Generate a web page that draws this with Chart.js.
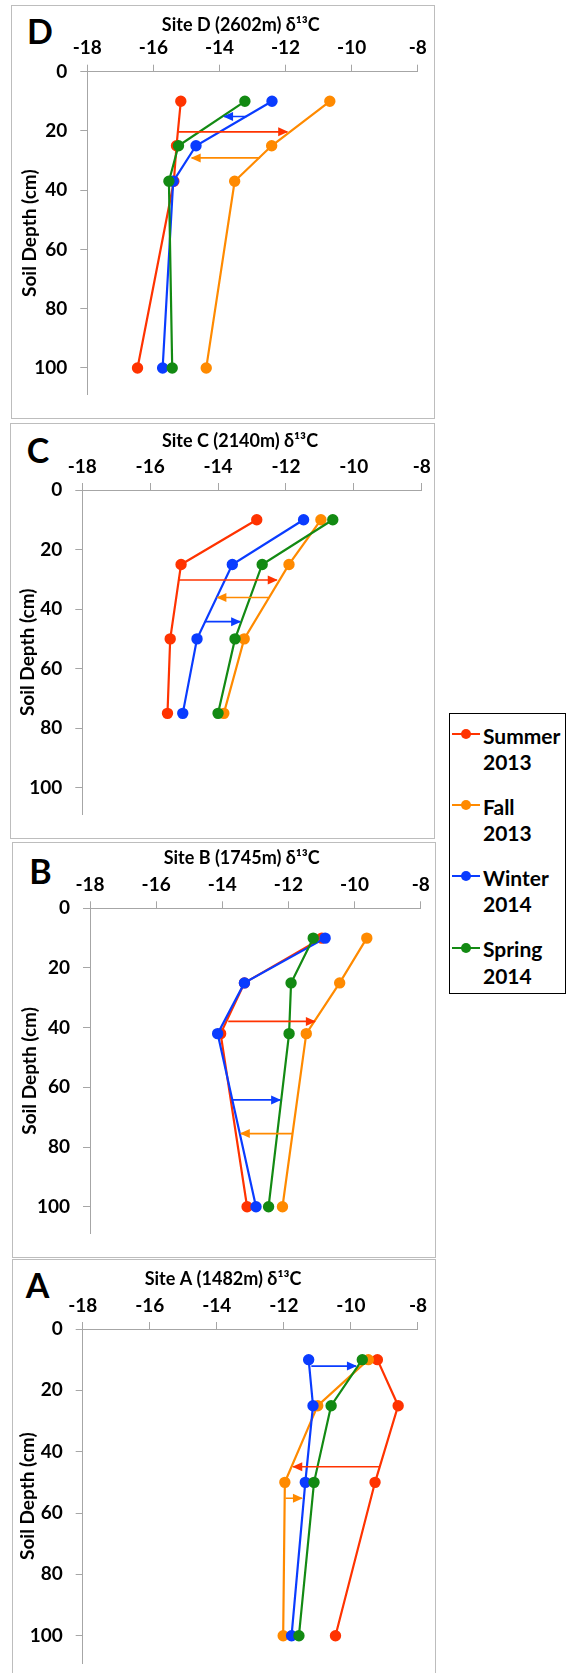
<!DOCTYPE html>
<html>
<head>
<meta charset="utf-8">
<title>Soil depth d13C by site</title>
<script src="https://cdn.jsdelivr.net/npm/chart.js@4.4.1/dist/chart.umd.min.js"></script>
<style>
  body { margin: 0; width: 566px; height: 1673px; background: #fff; position: relative; overflow: hidden; font-family: Lato, sans-serif; }
  .frame { position: absolute; border: 1px solid #bdbdbd; box-sizing: border-box; }
  canvas { position: absolute; }
  .letter { position: absolute; font: bold 34px Lato, sans-serif; line-height: 1; transform: translate(-50%, -50%); color: #000; }
  #legend { position: absolute; z-index: 5; left: 449px; top: 713px; width: 117px; height: 281px; border: 1px solid #000; box-sizing: border-box; padding-top: 8.6px; background: #fff; }
  #legend .item { position: relative; height: 53.4px; margin-bottom: 17.7px; padding-left: 33px; font: bold 21px Lato, sans-serif; line-height: 26.7px; color: #000; }
  #legend .mk { position: absolute; left: 2px; top: 10.7px; width: 28px; height: 2px; }
  #legend .mk i { position: absolute; left: 9px; top: -4px; width: 10px; height: 10px; border-radius: 50%; background: inherit; }
</style>
</head>
<body>
<div id="legend"></div>
<script>
// values: x = d13C (per mil), y = soil depth (cm)
const xTicks = [-18, -16, -14, -12, -10, -8];
const depthTicks = [0, 20, 40, 60, 80, 100];
const seasons = ['Summer 2013', 'Fall 2013', 'Winter 2014', 'Spring 2014'];

const depthD = [10, 25, 37, 100];
const summerD = [-15.17, -15.30, -15.38, -16.48];
const fallD = [-10.66, -12.42, -13.54, -14.40];
const winterD = [-12.41, -14.71, -15.40, -15.72];
const springD = [-13.23, -15.24, -15.53, -15.43];

const depthC = [10, 25, 50, 75];
const summerC = [-12.86, -15.09, -15.41, -15.49];
const fallC = [-10.97, -11.91, -13.23, -13.83];
const winterC = [-11.48, -13.58, -14.62, -15.04];
const springC = [-10.62, -12.70, -13.50, -14.00];

const depthB = [10, 25, 42, 100];
const summerB = [-10.99, -13.33, -14.05, -13.25];
const fallB = [-9.63, -10.45, -11.46, -12.18];
const winterB = [-10.89, -13.33, -14.14, -12.98];
const springB = [-11.25, -11.92, -11.98, -12.60];

const depthA = [10, 25, 50, 100];
const summerA = [-9.21, -8.59, -9.28, -10.46];
const fallA = [-9.48, -10.99, -11.97, -12.02];
const winterA = [-11.26, -11.13, -11.36, -11.77];
const springA = [-9.66, -10.59, -11.10, -11.55];

// shift arrows: [season index, depth, from, to]
const arrowsD = [[2, 15.1, -13.18, -13.86], [0, 20.3, -15.25, -11.95], [1, 29.1, -12.77, -14.84]];
const arrowsC = [[0, 30.2, -15.17, -12.27], [1, 36.1, -12.52, -14.02], [2, 44.2, -14.39, -13.35]];
const arrowsB = [[0, 37.9, -13.82, -11.20], [2, 64.2, -13.70, -12.25], [1, 75.5, -11.87, -13.44]];
const arrowsA = [[2, 12.1, -11.18, -9.85], [0, 44.9, -9.16, -11.72], [1, 55.2, -11.95, -11.46]];

const COLORS = ['#ff3300', '#ff8a00', '#0a3cff', '#138a13'];
const AXIS = '#a6a6a6';
const FONT = 'Lato';
const TITLE_SIZE = 18, TICK_SIZE = 19;

const panels = [
    { letter: 'D', title: 'Site D (2602m) δ¹³C', depths: depthD, series: [summerD, fallD, winterD, springD], arrows: arrowsD,
      geo: { frame: [11, 5, 435, 419], area: { l: 87.3, r: 417.7, t: 71.7, y100: 381 }, title: { x: 240.8, y: 25 }, letter: { x: 40, y: 30.5 }, yTitleX: 30 } },
    { letter: 'C', title: 'Site C (2140m) δ¹³C', depths: depthC, series: [summerC, fallC, winterC, springC], arrows: arrowsC,
      geo: { frame: [10, 423, 435, 839], area: { l: 82.3, r: 421.7, t: 490, y100: 799.3 }, title: { x: 240, y: 440.7 }, letter: { x: 38, y: 450 }, yTitleX: 28 } },
    { letter: 'B', title: 'Site B (1745m) δ¹³C', depths: depthB, series: [summerB, fallB, winterB, springB], arrows: arrowsB,
      geo: { frame: [12, 842, 436, 1258], area: { l: 90, r: 420.7, t: 908.3, y100: 1217.3 }, title: { x: 241.7, y: 858.3 }, letter: { x: 40.5, y: 871 }, yTitleX: 30 } },
    { letter: 'A', title: 'Site A (1482m) δ¹³C', depths: depthA, series: [summerA, fallA, winterA, springA], arrows: arrowsA,
      geo: { frame: [12, 1259, 436, 1700], area: { l: 82.7, r: 421, t: 1329, y100: 1635.7 }, title: { x: 223, y: 1279.3 }, letter: { x: 37.5, y: 1284.5 }, yTitleX: 28 } },
];

const arrowHeads = {
    id: 'arrowHeads',
    afterDatasetsDraw(chart) {
        const ctx = chart.ctx;
        chart.data.datasets.forEach((ds, i) => {
            if (!ds.arrow) return;
            const [a, b] = chart.getDatasetMeta(i).data;
            ctx.save();
            ctx.translate(b.x, b.y);
            ctx.rotate(Math.atan2(b.y - a.y, b.x - a.x));
            ctx.beginPath();
            ctx.moveTo(1, 0);
            ctx.lineTo(-9, -4.5);
            ctx.lineTo(-9, 4.5);
            ctx.closePath();
            ctx.fillStyle = ds.borderColor;
            ctx.fill();
            ctx.restore();
        });
    }
};

const boldFont = size => ({ family: FONT, weight: 'bold', size });

function buildPanel(p) {
    const g = p.geo;
    const [fl, ft, fr, fb] = g.frame;
    const W = fr - fl, H = fb - ft;

    const box = document.createElement('div');
    box.className = 'frame';
    Object.assign(box.style, { left: fl + 'px', top: ft + 'px', width: W + 'px', height: H + 'px' });
    document.body.appendChild(box);

    const lt = document.createElement('div');
    lt.className = 'letter';
    lt.textContent = p.letter;
    Object.assign(lt.style, { left: g.letter.x + 'px', top: g.letter.y + 'px' });
    document.body.appendChild(lt);

    // canvas coords, canvas starts at the frame corner
    const maxDepth = 109;
    const padL = 2;
    const cl = g.area.l - fl, cr = g.area.r - fl, ct = g.area.t - ft;
    const cb = ct + (g.area.y100 - g.area.t) * maxDepth / 100;
    const titleRight = 2 * (g.title.x - fl) - padL;   // title box is centred on the title
    const CW = Math.ceil(titleRight);
    const titleLH = TITLE_SIZE * 1.2, yTitleLH = TICK_SIZE * 1.2;
    const xh = g.area.t - g.title.y - titleLH / 2;

    const cv = document.createElement('canvas');
    cv.width = CW; cv.height = H;
    Object.assign(cv.style, { left: fl + 'px', top: ft + 'px' });
    document.body.appendChild(cv);

    const datasets = p.series.map((vals, i) => ({
        label: seasons[i],
        data: p.depths.map((d, k) => ({ x: vals[k], y: d })),
        showLine: true,
        borderColor: COLORS[i],
        backgroundColor: COLORS[i],
        borderWidth: 2.2,
        pointRadius: 4.6,
        pointHoverRadius: 4.6,
        order: 4 - i
    }));
    p.arrows.forEach(([si, d, from, to]) => datasets.push({
        label: seasons[si] + ' shift',
        arrow: true,
        data: [{ x: from, y: d }, { x: to, y: d }],
        showLine: true,
        borderColor: COLORS[si],
        borderWidth: 1.6,
        pointRadius: 0,
        pointHoverRadius: 0,
        order: 0
    }));

    new Chart(cv, {
        type: 'scatter',
        data: { datasets },
        plugins: [arrowHeads],
        options: {
            responsive: false,
            animation: false,
            devicePixelRatio: 1,
            layout: { padding: { left: padL, right: CW - titleRight, top: 0, bottom: H - cb } },
            plugins: {
                legend: { display: false },
                tooltip: { enabled: false },
                title: {
                    display: true, text: p.title, color: '#000',
                    font: boldFont(TITLE_SIZE),
                    padding: { top: g.title.y - ft - titleLH / 2, bottom: 0 }
                }
            },
            scales: {
                x: {
                    type: 'linear', position: 'top', min: -18, max: -8,
                    afterBuildTicks: s => { s.ticks = xTicks.map(v => ({ value: v })); },
                    ticks: { font: boldFont(TICK_SIZE), color: '#000', padding: 5, maxRotation: 0 },
                    grid: { drawOnChartArea: false, drawTicks: true, tickLength: 7, color: AXIS },
                    border: { display: true, color: AXIS },
                    afterFit: s => { s.height = xh; }
                },
                y: {
                    type: 'linear', position: 'left', reverse: true, min: 0, max: maxDepth,
                    afterBuildTicks: s => { s.ticks = depthTicks.map(v => ({ value: v })); },
                    ticks: { font: boldFont(TICK_SIZE), color: '#000', padding: 13 },
                    grid: { drawOnChartArea: false, drawTicks: true, tickLength: 7, color: AXIS },
                    border: { display: true, color: AXIS },
                    title: {
                        display: true, text: 'Soil Depth (cm)', color: '#000',
                        font: boldFont(TICK_SIZE),
                        padding: { top: (g.yTitleX - fl) - padL - yTitleLH / 2, bottom: 0 }
                    },
                    afterFit: s => { s.width = cl - padL; }
                },
                // empty spacer on the right so the title sits where it does in the figure
                spacer: {
                    type: 'linear', position: 'right', axis: 'y',
                    ticks: { display: false }, grid: { display: false }, border: { display: false },
                    afterFit: s => { s.width = titleRight - cr; }
                }
            }
        }
    });
}

function buildLegend() {
    const el = document.getElementById('legend');
    el.innerHTML = seasons.map((s, i) => {
        const [name, year] = s.split(' ');
        return `<div class="item"><span class="mk" style="background:${COLORS[i]}"><i></i></span>${name}<br>${year}</div>`;
    }).join('');
}

document.fonts.load('bold 18px Lato').finally(() => {
    panels.forEach(buildPanel);
    buildLegend();
});
</script>
</body>
</html>
